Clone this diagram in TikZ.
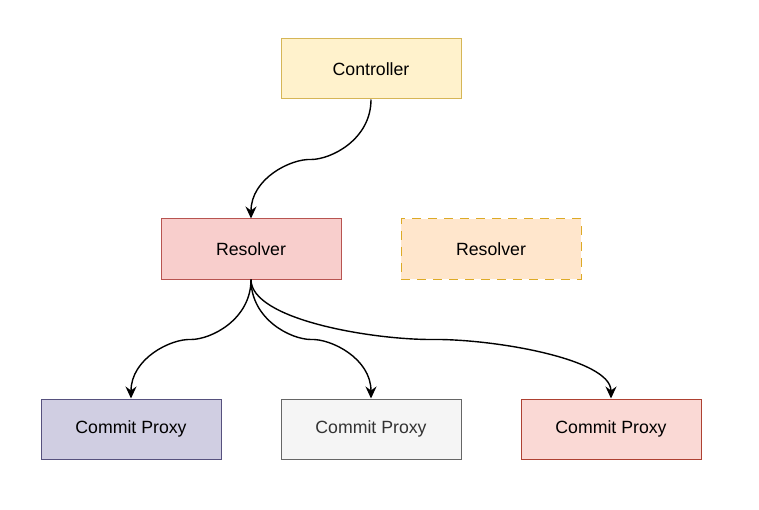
\documentclass[tikz,border=0pt]{standalone}
\usepackage{fontspec}
\setmainfont{Liberation Sans}
\usetikzlibrary{arrows.meta}
\definecolor{ctrlfill}{HTML}{FFF2CC}\definecolor{ctrldraw}{HTML}{D6B656}
\definecolor{resfill}{HTML}{F8CECC}\definecolor{resdraw}{HTML}{B85450}
\definecolor{orfill}{HTML}{FFE6CC}\definecolor{ordraw}{HTML}{D79B00}
\definecolor{purfill}{HTML}{D0CEE2}\definecolor{purdraw}{HTML}{56517E}
\definecolor{grfill}{HTML}{F5F5F5}\definecolor{grdraw}{HTML}{666666}\definecolor{grtext}{HTML}{333333}
\definecolor{rdfill}{HTML}{FAD9D5}\definecolor{rddraw}{HTML}{AE4132}
\begin{document}
\begin{tikzpicture}[x=1pt,y=-1pt,
  box/.style={draw, line width=1pt, minimum width=180pt, minimum height=60pt, inner sep=0pt, font=\fontsize{17.7}{20}\selectfont},
  conn/.style={line width=1.4pt, -{Stealth[length=12pt,width=11pt,inset=4pt]}}]
\useasboundingbox (0,0) rectangle (759,510);
\node[box, fill=ctrlfill, draw=ctrldraw] (ctrl) at (371,69) {Controller};
\node[box, fill=resfill, draw=resdraw] (res) at (251,249) {Resolver};
\node[box, fill=orfill, draw=ordraw!85!white, dash pattern=on 9pt off 7pt] (res2) at (491,249) {Resolver};
\node[box, fill=purfill, draw=purdraw] (cp1) at (131,429) {Commit Proxy};
\node[box, fill=grfill, draw=grdraw, text=grtext] (cp2) at (371,429) {Commit Proxy};
\node[box, fill=rdfill, draw=rddraw] (cp3) at (611,429) {Commit Proxy};
\draw[conn] (ctrl.south) .. controls ([shift={(0,40)}]ctrl.south) and ([shift={(-40,60)}]ctrl.south) .. ([shift={(-60,60)}]ctrl.south)
  .. controls ([shift={(40,-60)}]res.north) and ([shift={(0,-40)}]res.north) .. (res.north);
\draw[conn] (res.south) .. controls ([shift={(0,40)}]res.south) and ([shift={(-40,60)}]res.south) .. ([shift={(-60,60)}]res.south)
  .. controls ([shift={(40,-60)}]cp1.north) and ([shift={(0,-40)}]cp1.north) .. (cp1.north);
\draw[conn] (res.south) .. controls ([shift={(0,40)}]res.south) and ([shift={(40,60)}]res.south) .. ([shift={(60,60)}]res.south)
  .. controls ([shift={(-40,-60)}]cp2.north) and ([shift={(0,-40)}]cp2.north) .. (cp2.north);
\draw[conn] (res.south) .. controls ([shift={(0,40)}]res.south) and ([shift={(120,60)}]res.south) .. ([shift={(180,60)}]res.south)
  .. controls ([shift={(-120,-60)}]cp3.north) and ([shift={(0,-40)}]cp3.north) .. (cp3.north);
\end{tikzpicture}
\end{document}
